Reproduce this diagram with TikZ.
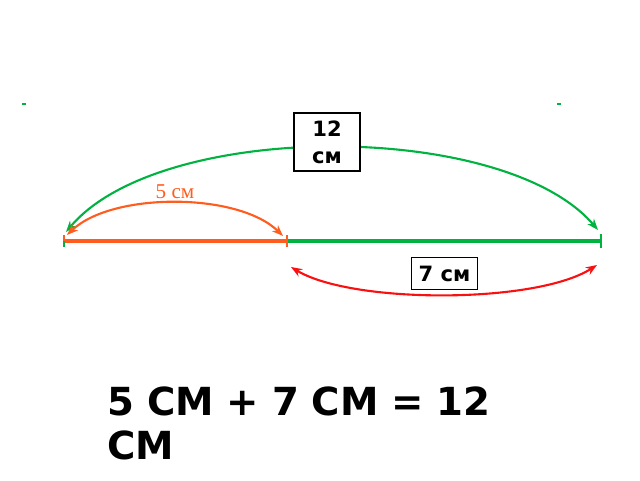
\documentclass[tikz,border=0pt]{standalone}
\usepackage{fontspec}
\setmainfont{Liberation Serif}
\newfontfamily\boxfont{DejaVu Sans}
\usetikzlibrary{arrows.meta}
\definecolor{segGreen}{RGB}{0,178,64}
\definecolor{segOrange}{RGB}{255,92,30}
\definecolor{arcRed}{RGB}{250,16,16}
\tikzset{
  lenbox/.style={draw=black, line width=1.1pt, fill=white, font=\boxfont\bfseries\fontsize{15}{18}\selectfont, align=center, inner sep=0pt},
  seg/.style={line width=3pt},
  tick/.style={line width=1.8pt},
  arc/.style={line width=1.5pt, {Stealth[length=8pt,width=6pt]}-{Stealth[length=8pt,width=6pt]}}
}
\begin{document}
\begin{tikzpicture}
        \useasboundingbox (0,0) rectangle (16,12);
        % points of the segment
        \coordinate (A) at (1.6,5.975);
        \coordinate (M) at (7.175,5.975);
        \coordinate (B) at (15.025,5.975);
        % ends of the arcs
        \coordinate (gL) at (1.65,6.2);
        \coordinate (gR) at (14.95,6.25);
        \coordinate (oL) at (1.675,6.125);
        \coordinate (oR) at (7.075,6.1);
        \coordinate (rL) at (7.275,5.325);
        \coordinate (rR) at (14.925,5.375);
        % small marks
        \coordinate (dL) at (0.6,9.4);
        \coordinate (dR) at (13.975,9.4);
        \draw[segGreen, line width=1.5pt] ([xshift=-1.5pt]dL) -- ([xshift=1.5pt]dL);
        \draw[segGreen, line width=1.5pt] ([xshift=-1.5pt]dR) -- ([xshift=1.5pt]dR);
        % segment
        \draw[seg, segGreen] (M) -- (B);
        \draw[seg, segOrange] (A) -- (M);
        \draw[tick, segGreen] ([yshift=-0.15cm]A) -- ([yshift=0.15cm]A);
        \draw[tick, segOrange] (A) -- ([yshift=0.15cm]A);
        \draw[tick, segOrange] ([yshift=-0.15cm]M) -- ([yshift=0.15cm]M);
        \draw[tick, segGreen] ([yshift=-0.17cm]B) -- ([yshift=0.17cm]B);
        % whole length
        \draw[arc, segGreen] (gL) .. controls (4.0,9.0) and (12.6,9.0) .. (gR);
        \node[lenbox, minimum width=1.65cm, minimum height=1.45cm] (twelve) at (8.175,8.45) {12\\[1pt]см};
        % first part
        \draw[arc, segOrange] (oL) .. controls (2.8,7.2) and (5.95,7.2) .. (oR);
        \node[text=segOrange, font=\fontsize{15}{17}\selectfont] (five) at (4.375,7.2) {5 см};
        % second part
        \draw[arc, arcRed] (rL) .. controls (8.8,4.4) and (13.4,4.4) .. (rR);
        \node[lenbox, minimum width=1.65cm, minimum height=0.8cm] (seven) at (11.11,5.16) {7 см};
        % sum
        \node[anchor=base west, text width=10.5cm, align=left, inner sep=0pt,
              font=\boxfont\bfseries\fontsize{27.5}{32}\selectfont] (sum) at (2.675,1.625) {5 СМ + 7 СМ = 12 СМ};
\end{tikzpicture}
\end{document}
